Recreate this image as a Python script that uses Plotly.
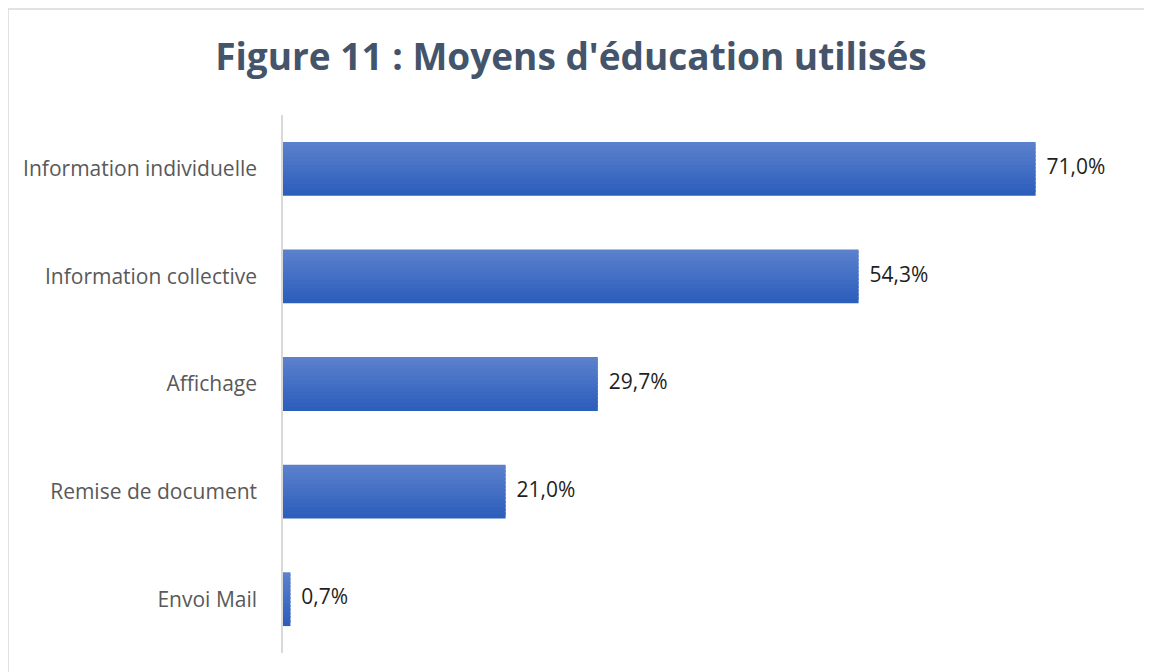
import plotly.graph_objects as go

# data
categories = ["Information individuelle", "Information collective", "Affichage",
              "Remise de document", "Envoi Mail"]
values = [71.0, 54.3, 29.7, 21.0, 0.7]
labels = ["71,0%", "54,3%", "29,7%", "21,0%", "0,7%"]

# the page body adds an 8px margin, so everything is placed 8px up/left
W, H = 1152, 672
L, R, T, B = 275, 29, 107, 27
FONT = "Open Sans, Noto Sans, sans-serif"

# vertical gradient: light blue on top, darker at the bottom
top_rgb = (0x5B, 0x80, 0xCC)
bot_rgb = (0x2C, 0x5E, 0xBC)
n_strips = 14
bar_w = 0.5

fig = go.Figure()
for i in range(n_strips):
    t = i / (n_strips - 1)
    c = tuple(round(bot_rgb[k] + (top_rgb[k] - bot_rgb[k]) * t) for k in range(3))
    w = bar_w / n_strips
    last = i == n_strips - 1
    fig.add_trace(go.Bar(
        y=categories, x=values, orientation="h",
        width=w if last else w * 1.6, offset=-bar_w / 2 + i * w,
        marker=dict(color="rgb(%d,%d,%d)" % c, line=dict(width=0)),
        hoverinfo="skip", showlegend=False,
    ))

# value labels
fig.add_trace(go.Scatter(
    y=categories, x=values, mode="text", text=labels,
    texttemplate="  %{text}", textposition="middle right",
    textfont=dict(family=FONT, size=21, color="#1F1F1F"),
    showlegend=False, hoverinfo="skip", cliponaxis=False,
))

# light grey chart frame
pw, ph = W - L - R, H - T - B
fig.add_shape(type="rect", xref="paper", yref="paper",
              x0=(0 - L) / pw, x1=(W + 10 - L) / pw,
              y0=-(B + 10) / ph, y1=1 + (T - 1) / ph,
              line=dict(color="#D9D9D9", width=1.5), layer="below")

fig.update_layout(
    width=W, height=H,
    margin=dict(l=L, r=R, t=T, b=B),
    paper_bgcolor="white", plot_bgcolor="white",
    barmode="overlay",
    title=dict(text="<b>Figure 11 : Moyens d'éducation utilisés</b>",
               x=(571 - 8) / W, xanchor="center", xref="container",
               y=1 - 49 / H, yanchor="middle",
               font=dict(family=FONT, size=37, color="#44546A")),
    xaxis=dict(range=[0, 80], visible=False),
    yaxis=dict(categoryorder="array", categoryarray=categories[::-1],
               showline=True, linecolor="#D9D9D9", linewidth=1.5,
               showgrid=False, ticks="", ticklabelstandoff=20,
               tickfont=dict(family=FONT, size=21, color="#595959")),
)

fig.write_html("out.html")
